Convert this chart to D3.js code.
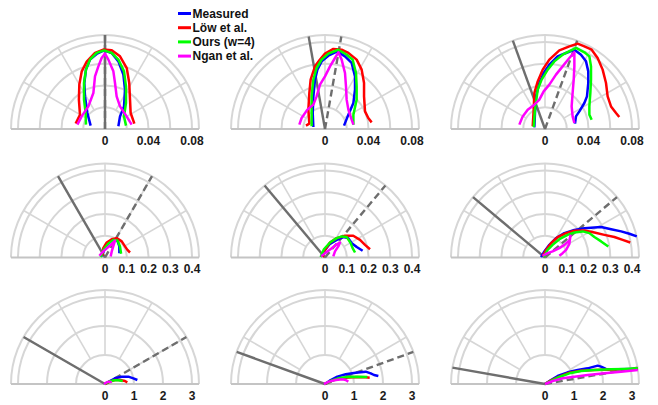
<!DOCTYPE html>
<html>
<head>
<meta charset="utf-8">
<script src="https://cdn.jsdelivr.net/npm/d3@7"></script>
<style>
  body { margin: 0; background: #fff; }
  svg { display: block; }
  text { font-family: "Liberation Sans", Arial, sans-serif; font-weight: bold; }
</style>
</head>
<body>
<svg id="chart" width="658" height="405"></svg>
<script>
// incident angle (deg from the normal) for each of the 9 panels
var incidentAngles = [0, 10, 20, 30, 40, 50, 60, 70, 80];

// per row: rings and labelled ticks
var rowRings = [[0.02, 0.04, 0.06, 0.08], [0.1, 0.2, 0.3, 0.4], [1, 2, 3]];
var rowTicks = [[0, 0.04, 0.08], [0, 0.1, 0.2, 0.3, 0.4], [0, 1, 2, 3]];
var rowTickLabels = [['0', '0.04', '0.08'], ['0', '0.1', '0.2', '0.3', '0.4'], ['0', '1', '2', '3']];

var seriesNames = ['Measured', 'Löw et al.', 'Ours (w=4)', 'Ngan et al.'];
var seriesColors = ['#0000ff', '#ff0000', '#00ff00', '#ff00ff'];

// lobes, [x, y] in plot units (x along the surface, y along the normal), one list per panel
var measured = [
  [[-0.0132,0.0031],[-0.0162,0.0147],[-0.0184,0.030],[-0.019,0.0423],[-0.0175,0.0546],[-0.0138,0.0638],[-0.0077,0.069],[-0.0009,0.0723],[0.0061,0.0699],[0.0123,0.0622],[0.0169,0.050],[0.0184,0.0362],[0.0175,0.0208],[0.0138,0.0116],[0.0123,0.0025]],
  [[-0.0107,0.0018],[-0.0113,0.0147],[-0.0107,0.030],[-0.0092,0.0454],[-0.007,0.0546],[-0.0031,0.0622],[0.0031,0.0674],[0.0113,0.0714],[0.0184,0.0668],[0.0245,0.0607],[0.0276,0.0484],[0.0276,0.0362],[0.0261,0.0239],[0.0215,0.0132],[0.0175,0.0031]],
  [[-0.0098,0.0015],[-0.0092,0.0147],[-0.0083,0.030],[-0.0052,0.0423],[-0.0012,0.0515],[0.004,0.0592],[0.0116,0.0668],[0.0193,0.0699],[0.027,0.0729],[0.0331,0.0683],[0.0377,0.0622],[0.0398,0.053],[0.0398,0.0423],[0.0386,0.030],[0.0362,0.0239],[0.0316,0.0162],[0.0285,0.0116],[0.0276,0.0049]],
  [[-0.015,0.005],[0,0.043],[0.02,0.069],[0.041,0.084],[0.057,0.078],[0.066,0.051],[0.066,0.02]],
  [[-0.015,0.005],[0,0.035],[0.023,0.063],[0.054,0.081],[0.084,0.094],[0.107,0.089],[0.123,0.066],[0.146,0.048],[0.173,0.031]],
  [[-0.018,0.002],[-0.003,0.028],[0.02,0.058],[0.051,0.089],[0.089,0.112],[0.135,0.127],[0.181,0.135],[0.227,0.138],[0.258,0.14],[0.304,0.13],[0.35,0.12],[0.388,0.109],[0.422,0.097]],
  [[0.035,0.023],[0.173,0.104],[0.345,0.196],[0.575,0.253],[0.805,0.253],[0.978,0.196],[1.116,0.138]],
  [[0,0],[0.196,0.138],[0.426,0.253],[0.713,0.334],[1.058,0.391],[1.403,0.426],[1.576,0.368],[1.69,0.31],[1.84,0.276]],
  [[0,0],[0.207,0.138],[0.437,0.276],[0.782,0.403],[1.127,0.483],[1.472,0.54],[1.817,0.633],[1.932,0.598],[2.1,0.518],[2.5,0.51],[3.0,0.52]]
];

var low = [
  [[-0.027,0.005],[-0.023,0.013],[-0.024,0.027],[-0.0236,0.041],[-0.0214,0.053],[-0.0168,0.062],[-0.0092,0.070],[-0.0016,0.073],[0.0062,0.0724],[0.0138,0.0668],[0.020,0.056],[0.0223,0.0423],[0.023,0.027],[0.0236,0.0147],[0.027,0.0049]],
  [[-0.0175,0.0031],[-0.0144,0.0049],[-0.0153,0.0178],[-0.0144,0.0331],[-0.0132,0.0454],[-0.0092,0.0576],[-0.0046,0.0638],[0,0.0693],[0.0077,0.0736],[0.0153,0.0729],[0.0215,0.0699],[0.0291,0.0638],[0.0337,0.0546],[0.0359,0.0423],[0.0359,0.030],[0.0368,0.0162],[0.0398,0.0101],[0.0429,0.0061]],
  [[-0.0113,0.0025],[-0.0104,0.0178],[-0.0098,0.0331],[-0.0067,0.0438],[-0.0021,0.0546],[0.004,0.0638],[0.0132,0.0723],[0.0224,0.076],[0.030,0.0785],[0.0362,0.076],[0.0429,0.0729],[0.0484,0.0653],[0.053,0.0546],[0.0561,0.0423],[0.0576,0.030],[0.0607,0.0208],[0.0653,0.0147],[0.0683,0.011]],
  [[-0.011,0.008],[-0.008,0.043],[0.008,0.069],[0.031,0.084],[0.054,0.089],[0.077,0.074],[0.092,0.051],[0.103,0.035],[0.115,0.023]],
  [[-0.011,0.002],[0,0.035],[0.023,0.069],[0.054,0.089],[0.092,0.1],[0.13,0.1],[0.161,0.081],[0.184,0.058],[0.207,0.038]],
  [[-0.011,0.005],[0.005,0.035],[0.028,0.066],[0.058,0.094],[0.097,0.112],[0.135,0.123],[0.181,0.124],[0.227,0.115],[0.273,0.104],[0.319,0.094],[0.357,0.081],[0.392,0.069]],
  [[0,0],[0.173,0.081],[0.345,0.138],[0.518,0.138],[0.69,0.104],[0.77,0.058]],
  [[0,0],[0.196,0.104],[0.426,0.173],[0.713,0.219],[1.058,0.242],[1.403,0.23],[1.541,0.219]],
  [[0,0],[0.207,0.127],[0.495,0.253],[0.84,0.391],[1.242,0.46],[1.702,0.483],[2.162,0.495],[2.565,0.506],[3.025,0.518],[3.2,0.529]]
];

var ours = [
  [[-0.0175,0.004],[-0.0178,0.0147],[-0.0193,0.027],[-0.0193,0.0423],[-0.0175,0.0546],[-0.0138,0.0638],[-0.0077,0.070],[-0.0009,0.0723],[0.0061,0.070],[0.0123,0.0638],[0.0175,0.053],[0.0193,0.0392],[0.0193,0.0239],[0.0175,0.0116],[0.0193,0.0031]],
  [[-0.0123,0.0025],[-0.0123,0.0147],[-0.0123,0.030],[-0.0107,0.0454],[-0.0077,0.0561],[-0.0031,0.0638],[0.0031,0.0693],[0.0123,0.0729],[0.0199,0.0683],[0.0254,0.0638],[0.0285,0.0515],[0.0291,0.0392],[0.0291,0.027],[0.0261,0.0132],[0.0261,0.004]],
  [[-0.0104,0.0018],[-0.0092,0.0178],[-0.0067,0.0362],[-0.0031,0.0454],[0.0025,0.0546],[0.0086,0.0622],[0.0162,0.0683],[0.0239,0.0723],[0.0285,0.0745],[0.0362,0.0705],[0.0408,0.0668],[0.0423,0.0576],[0.0423,0.0454],[0.0417,0.0331],[0.0408,0.0208],[0.0408,0.0132],[0.0429,0.0086]],
  [[-0.02,0.002],[-0.005,0.038],[0.015,0.063],[0.038,0.081],[0.057,0.078],[0.069,0.051],[0.074,0.017]],
  [[-0.02,0.002],[-0.005,0.038],[0.023,0.069],[0.054,0.089],[0.077,0.097],[0.1,0.094],[0.118,0.066],[0.127,0.043],[0.138,0.023]],
  [[-0.006,0.002],[0.012,0.035],[0.035,0.058],[0.066,0.084],[0.104,0.104],[0.135,0.115],[0.173,0.12],[0.204,0.112],[0.227,0.094],[0.258,0.074],[0.291,0.051]],
  [[0,0],[0.15,0.081],[0.31,0.127],[0.46,0.127],[0.61,0.104]],
  [[0,0],[0.196,0.104],[0.46,0.196],[0.77,0.242],[1.116,0.253],[1.46,0.242]],
  [[0,0],[0.207,0.104],[0.495,0.242],[0.84,0.368],[1.242,0.449],[1.702,0.483],[2.277,0.506],[2.737,0.518],[3.2,0.54]]
];

var ngan = [
  [[-0.0254,0.004],[-0.0215,0.0116],[-0.0153,0.0208],[-0.0107,0.0331],[-0.0092,0.0484],[-0.0061,0.0576],[-0.0031,0.0653],[0,0.0693],[0.0031,0.0638],[0.0077,0.053],[0.0092,0.0423],[0.0107,0.030],[0.0138,0.0208],[0.0199,0.0116],[0.0245,0.004]],
  [[-0.0236,0.004],[-0.0215,0.0101],[-0.0162,0.0178],[-0.0107,0.0224],[-0.0077,0.030],[-0.0046,0.0408],[0,0.0484],[0.0046,0.0576],[0.0092,0.0653],[0.0123,0.0705],[0.0153,0.0638],[0.0184,0.0515],[0.0193,0.0392],[0.0199,0.027],[0.0215,0.0178],[0.0245,0.0086],[0.0261,0.004]],
  [[-0.0236,0.004],[-0.0205,0.0116],[-0.0159,0.0178],[-0.0098,0.0224],[-0.0052,0.027],[-0.0012,0.0346],[0.004,0.0408],[0.0101,0.050],[0.0162,0.0576],[0.0224,0.0653],[0.027,0.0705],[0.027,0.0576],[0.0264,0.0454],[0.0254,0.0331],[0.0245,0.0208],[0.0254,0.0116],[0.027,0.0055]],
  [[-0.026,0.008],[-0.008,0.028],[0.015,0.048],[0.038,0.069],[0.046,0.078],[0.038,0.051],[0.031,0.028],[0.026,0.005]],
  [[-0.018,0.005],[0,0.02],[0.031,0.043],[0.054,0.061],[0.069,0.069],[0.061,0.051],[0.046,0.028],[0.038,0.005]],
  [[-0.011,0.008],[0.012,0.02],[0.035,0.028],[0.066,0.043],[0.089,0.058],[0.112,0.078],[0.117,0.1],[0.112,0.063],[0.097,0.035],[0.081,0.02],[0.066,0.008]],
  [[-0.035,0],[0.058,0.058],[0.15,0.081],[0.23,0.058]],
  [[-0.035,0],[0.138,0.081],[0.368,0.138],[0.6,0.161],[0.713,0.138],[0.805,0.081]],
  [[0,0],[0.265,0.104],[0.61,0.196],[1.012,0.253],[1.472,0.31],[2.047,0.368],[2.622,0.426],[3.2,0.483]]
];

var allSeries = [measured, low, ours, ngan];

var svg = d3.select('#chart');

var colX = [105, 325, 545];
var rowY = [129, 257.5, 384];
var tickR = 87;     // px radius of the last labelled ring
var outerR = 94;    // px radius of the outer boundary

drawPanel = function(i){
	var row = Math.floor(i / 3), col = i % 3;
	var rings = rowRings[row];
	var maxTick = rowTicks[row][rowTicks[row].length - 1];
	var r = d3.scaleLinear().domain([0, maxTick]).range([0, tickR]);
	var y = d3.scaleLinear().domain([0, maxTick]).range([0, -tickR]);
	var g = svg.append('g').attr('transform', 'translate(' + colX[col] + ',' + rowY[row] + ')');

	var arc = d3.arc().startAngle(-Math.PI / 2).endAngle(Math.PI / 2);

	// rings
	g.selectAll('path.ring')
		.data(rings.map(function(d) { return r(d); }).concat([outerR]))
		.enter()
		.append('path')
		.attr('class', 'ring')
		.attr('d', function(d) { return arc({innerRadius: d, outerRadius: d}); })
		.attr('fill', 'none')
		.attr('stroke', '#d6d6d6')
		.attr('stroke-width', 2);

	// spokes
	var r0 = r(rings[0]);
	g.selectAll('line.spoke')
		.data([30, 60, 90, 120, 150])
		.enter()
		.append('line')
		.attr('x1', function(d) { return r0 * Math.cos(d * Math.PI / 180); })
		.attr('y1', function(d) { return -r0 * Math.sin(d * Math.PI / 180); })
		.attr('x2', function(d) { return outerR * Math.cos(d * Math.PI / 180); })
		.attr('y2', function(d) { return -outerR * Math.sin(d * Math.PI / 180); })
		.attr('stroke', '#d6d6d6')
		.attr('stroke-width', 1.6);

	// baseline
	g.append('line')
		.attr('x1', -outerR).attr('x2', outerR)
		.attr('y1', 0).attr('y2', 0)
		.attr('stroke', '#c4c4c4')
		.attr('stroke-width', 2);

	// incident (solid) and mirror (dashed) directions
	var a = incidentAngles[i] * Math.PI / 180;
	g.append('line')
		.attr('x1', 0).attr('y1', 0)
		.attr('x2', -outerR * Math.sin(a)).attr('y2', -outerR * Math.cos(a))
		.attr('stroke', '#6e6e6e')
		.attr('stroke-width', 2.4);
	g.append('line')
		.attr('x1', 0).attr('y1', 0)
		.attr('x2', outerR * Math.sin(a)).attr('y2', -outerR * Math.cos(a))
		.attr('stroke', '#6e6e6e')
		.attr('stroke-width', 2.4)
		.attr('stroke-dasharray', '7,4');

	// lobes
	var line = d3.line()
		.x(function(d) { return r(d[0]); })
		.y(function(d) { return y(d[1]); });
	allSeries.forEach(function(s, k){
		g.append('path')
			.attr('d', line(s[i]))
			.attr('fill', 'none')
			.attr('stroke', seriesColors[k])
			.attr('stroke-width', 2.5)
			.attr('stroke-linejoin', 'round');
	});

	// tick labels
	g.selectAll('text.tick')
		.data(rowTicks[row])
		.enter()
		.append('text')
		.attr('x', function(d) { return r(d); })
		.attr('y', 15.5)
		.attr('text-anchor', 'middle')
		.attr('font-size', 12)
		.attr('fill', '#1a1a1a')
		.text(function(d, j) { return rowTickLabels[row][j]; });
};

for (var i = 0; i < 9; i++){
	drawPanel(i);
}

// legend
var legend = svg.append('g').attr('transform', 'translate(178,13.5)');
seriesNames.forEach(function(name, k){
	var lg = legend.append('g').attr('transform', 'translate(0,' + (k * 14.2) + ')');
	lg.append('line')
		.attr('x1', 0).attr('x2', 13)
		.attr('y1', 0).attr('y2', 0)
		.attr('stroke', seriesColors[k])
		.attr('stroke-width', 3);
	lg.append('text')
		.attr('x', 14.5)
		.attr('y', 4.3)
		.attr('font-size', 12)
		.attr('fill', '#111')
		.text(name);
});
</script>
</body>
</html>
